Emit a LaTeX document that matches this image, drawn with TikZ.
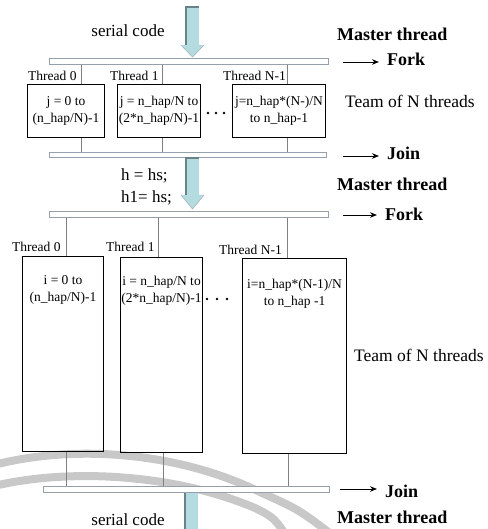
\documentclass[tikz,border=0pt]{standalone}
\usepackage{fontspec}
\setmainfont{Liberation Serif}
\usetikzlibrary{arrows.meta,calc}

\definecolor{flowblue}{RGB}{180,220,224}
\definecolor{flowedge}{RGB}{105,130,136}
\definecolor{barline}{RGB}{150,160,172}
\definecolor{linkgray}{RGB}{128,128,128}
\definecolor{markgray}{RGB}{200,200,200}

\tikzset{
  bar/.style={draw=barline, fill=white, line width=0.9pt, inner sep=0pt,
              minimum height=6pt, anchor=north west},
  taskbox/.style={draw=black, line width=1pt, inner sep=1pt, anchor=north west,
                  align=center, font=\fontsize{13.5}{17}\selectfont},
  boxtext/.style={inner sep=0pt, align=center, anchor=north,
                  font=\fontsize{13.5}{17}\selectfont},
  threadlbl/.style={inner sep=0pt, anchor=base west,
                    font=\fontsize{13.5}{15}\selectfont},
  phase/.style={inner sep=0pt, anchor=base west,
                font=\fontsize{18}{20}\selectfont\bfseries},
  plaintext/.style={inner sep=0pt, font=\fontsize{17}{20}\selectfont},
  team/.style={inner sep=0pt, anchor=base west,
               font=\fontsize{17.5}{20}\selectfont},
  link/.style={draw=linkgray, line width=0.7pt},
  pointer/.style={-{Stealth[length=7pt,width=5.5pt]}, line width=0.9pt,
                  shorten >=8pt},
  flow/.style={fill=flowblue},
  flowrim/.style={draw=flowedge, line width=1.3pt},
  dotfill/.style={fill=black},
  bandmark/.style={draw=markgray, line width=8pt, line cap=butt}
}

\begin{document}
\begin{tikzpicture}[x=1pt,y=-1pt]
\useasboundingbox (0,0) rectangle (487,529);

% faint background bands near the bottom
\draw[bandmark] (-6,465) .. controls (70,445) and (175,450) .. (262,493)
            .. controls (300,510) .. (345,545);
\draw[bandmark] (-6,486) .. controls (70,468) and (175,474) .. (255,508)
            .. controls (275,518) .. (292,545);

% ---------- first parallel region ----------
% serial code flowing into the first fork
\fill[flow] (186,7) -- (199,7) -- (199,45) -- (204,45) -- (192.5,57)
            -- (181,45) -- (186,45) -- cycle;
\draw[flowrim] (186,45) -- (186,7) -- (199,7);
\draw[flowedge!60, line width=0.6pt] (181,45) -- (192.5,57) -- (204,45);
\node[plaintext, anchor=base] (serial1) at (128,37) {serial code};
\node[phase] (master1) at (337,41) {Master thread};

\node[bar, minimum width=279pt] (fork1) at (49,58) {};
\coordinate (fk1a) at (343,62);
\node[phase] (forklbl1) at (387,66) {Fork};
\draw[pointer] (fk1a) -- (forklbl1.west |- fk1a);

\node[threadlbl] (th0a) at (28,81) {Thread 0};
\node[threadlbl] (th1a) at (110,81) {Thread 1};
\node[threadlbl] (thNa) at (223,81) {Thread N-1};

\node[taskbox, minimum width=77pt, minimum height=53pt] (ja) at (27,84)
  {j = 0 to\\(n\_hap/N)-1};
\node[taskbox, minimum width=83pt, minimum height=53pt] (jb) at (117,84)
  {j = n\_hap/N to\\(2*n\_hap/N)-1};
\node[taskbox, minimum width=93pt, minimum height=53pt] (jc) at (232,84)
  {j=n\_hap*(N-)/N\\to n\_hap-1};

\fill[dotfill] (208,113) circle (1.3) (216,113) circle (1.3) (224,113) circle (1.3);
\node[team] (team1) at (345,108) {Team of N threads};

\node[bar, minimum width=277pt, minimum height=5pt] (join1) at (49,152) {};
\coordinate (jn1a) at (343,156);
\node[phase] (joinlbl1) at (387,160) {Join};
\draw[pointer] (jn1a) -- (joinlbl1.west |- jn1a);

% thread lines of the first region
\coordinate (x1) at (81,0);
\coordinate (x2) at (162,0);
\coordinate (x3) at (287,0);
\draw[link] (x1 |- fork1.south) -- (x1 |- ja.north);
\draw[link] (x2 |- fork1.south) -- (x2 |- jb.north);
\draw[link] (x3 |- fork1.south) -- (x3 |- jc.north);
\draw[link] (x1 |- ja.south) -- (x1 |- join1.north);
\draw[link] (x2 |- jb.south) -- (x2 |- join1.north);
\draw[link] (x3 |- jc.south) -- (x3 |- join1.north);

% ---------- second parallel region ----------
\fill[flow] (186,158) -- (199,158) -- (199,195) -- (204,195) -- (192.5,209)
            -- (181,195) -- (186,195) -- cycle;
\draw[flowrim] (186,195) -- (186,158) -- (199,158);
\draw[flowedge!60, line width=0.6pt] (181,195) -- (192.5,209) -- (204,195);
\node[plaintext, anchor=base west] (assign1) at (121,181) {h = hs;};
\node[plaintext, anchor=base west] (assign2) at (121,203) {h1= hs;};
\node[phase] (master2) at (337,191) {Master thread};

\node[bar, minimum width=279pt] (fork2) at (49,211) {};
\coordinate (fk2a) at (343,215);
\node[phase] (forklbl2) at (385,220) {Fork};
\draw[pointer] (fk2a) -- (forklbl2.west |- fk2a);

\node[threadlbl] (th0b) at (12,251) {Thread 0};
\node[threadlbl] (th1b) at (106,251) {Thread 1};
\node[threadlbl] (thNb) at (219,254) {Thread N-1};

\node[taskbox, minimum width=81pt, minimum height=195pt] (ia) at (22,256) {};
\node[taskbox, minimum width=82pt, minimum height=195pt] (ib) at (120,257) {};
\node[taskbox, minimum width=104pt, minimum height=195pt] (ic) at (242,258) {};
\node[boxtext] (iat) at ($(ia.north)+(0,19.5)$) {i = 0 to\\(n\_hap/N)-1};
\node[boxtext] (ibt) at ($(ib.north)+(0,18.5)$) {i = n\_hap/N to\\(2*n\_hap/N)-1};
\node[boxtext] (ict) at ($(ic.north)+(0,20.5)$) {i=n\_hap*(N-1)/N\\to n\_hap -1};

\fill[dotfill] (207,299) circle (1.3) (217,299) circle (1.3) (227,299) circle (1.3);
\node[team] (team2) at (354,361) {Team of N threads};

\node[bar, minimum width=286pt] (join2) at (43,486) {};
\coordinate (jn2a) at (340,489);
\node[phase] (joinlbl2) at (385,497) {Join};
\draw[pointer] (jn2a) -- (joinlbl2.west |- jn2a);

% thread lines of the second region
\coordinate (y1) at (66,0);
\coordinate (y2) at (158,0);
\coordinate (y2b) at (163,0);
\coordinate (y3) at (287,0);
\coordinate (y3b) at (288,0);
\draw[link] (y1 |- fork2.south) -- (y1 |- ia.north);
\draw[link] (y2 |- fork2.south) -- (y2 |- ib.north);
\draw[link] (y3 |- fork2.south) -- (y3 |- ic.north);
\draw[link] (y1 |- ia.south) -- (y1 |- join2.north);
\draw[link] (y2b |- ib.south) -- (y2b |- join2.north);
\draw[link] (y3b |- ic.south) -- (y3b |- join2.north);

% ---------- back to serial code ----------
\fill[flow] (185,493) -- (198,493) -- (198,545) -- (185,545) -- cycle;
\draw[flowrim] (185,545) -- (185,493);
\node[plaintext, anchor=base] (serial2) at (128,525) {serial code};
\node[phase] (master3) at (337,523) {Master thread};
\end{tikzpicture}
\end{document}
